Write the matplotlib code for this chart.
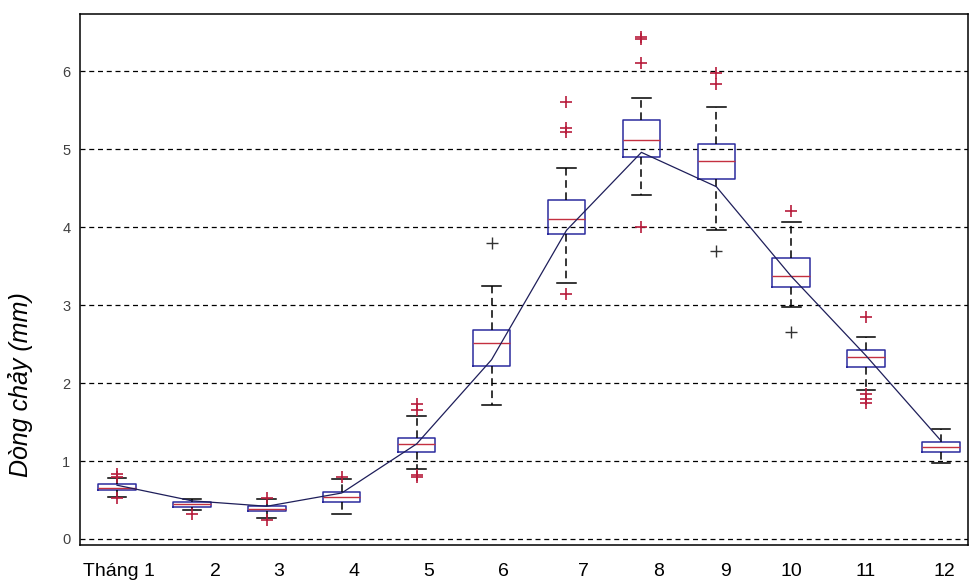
import matplotlib
matplotlib.use("Agg")
import matplotlib.pyplot as plt

plt.rcParams['font.family'] = ['Liberation Sans', 'DejaVu Sans']

months = [1, 2, 3, 4, 5, 6, 7, 8, 9, 10, 11, 12]
month_labels = ["Tháng 1", "2", "3", "4", "5", "6", "7", "8", "9", "10", "11", "12"]
label_pos = [1.03, 2.32, 3.16, 4.16, 5.16, 6.16, 7.22, 8.23, 9.12, 10.0, 11.0, 12.05]

q1 = [0.63, 0.415, 0.36, 0.48, 1.11, 2.22, 3.91, 4.90, 4.62, 3.23, 2.21, 1.12]
med = [0.66, 0.445, 0.39, 0.535, 1.22, 2.52, 4.10, 5.12, 4.85, 3.37, 2.33, 1.18]
q3 = [0.70, 0.475, 0.42, 0.60, 1.30, 2.68, 4.35, 5.38, 5.07, 3.60, 2.43, 1.24]
whis_lo = [0.54, 0.37, 0.265, 0.32, 0.90, 1.72, 3.28, 4.41, 3.97, 2.98, 1.91, 0.98]
whis_hi = [0.78, 0.51, 0.51, 0.77, 1.58, 3.25, 4.76, 5.66, 5.54, 4.07, 2.59, 1.41]

# red outliers
red_out = [
    [0.84, 0.80, 0.53],
    [0.32],
    [0.53, 0.25],
    [0.79],
    [1.73, 1.66, 0.82, 0.79],
    [],
    [5.61, 5.27, 5.22, 3.14],
    [6.44, 6.41, 6.10, 4.00],
    [5.98, 5.84],
    [4.21],
    [2.85, 1.86, 1.80, 1.75],
    [],
]
# black outliers
black_out_x = [6, 9, 10]
black_out_y = [3.80, 3.70, 2.65]

# mean line
mean_line = [0.69, 0.49, 0.42, 0.59, 1.22, 2.30, 3.96, 4.96, 4.52, 3.37, 2.35, 1.26]

fig = plt.figure(figsize=(9.69, 5.83), dpi=100)
ax = fig.add_axes([80/969, 38/583, 888/969, (545-14.3)/583])

stats = []
for i in range(len(months)):
    stats.append(dict(med=med[i], q1=q1[i], q3=q3[i], whislo=whis_lo[i],
                      whishi=whis_hi[i], fliers=red_out[i]))

box_blue = "#2b2b9e"
ax.bxp(stats, positions=months, widths=0.5, showfliers=True,
       boxprops=dict(color=box_blue, linewidth=1.1),
       medianprops=dict(color="#c43040", linewidth=1.0),
       whiskerprops=dict(color="black", linewidth=1.1, linestyle=(0, (5, 3))),
       capprops=dict(color="black", linewidth=1.1),
       capwidths=0.25,
       flierprops=dict(marker="+", markeredgecolor="#b81c3c", markersize=8,
                       markeredgewidth=1.2, linestyle="none"),
       zorder=3)
ax.plot(black_out_x, black_out_y, linestyle="none", marker="+", color="#333333",
        markersize=8, markeredgewidth=1.0, zorder=3)

ax.plot(months, mean_line, color="#1e1e5a", linewidth=0.9, zorder=4)

ax.set_xlim(0.506, 12.36)
ax.set_ylim(-0.077, 6.731)
ax.set_yticks([0, 1, 2, 3, 4, 5, 6])
ax.set_yticklabels(["0", "1", "2", "3", "4", "5", "6"], fontsize=10.5, color="#404040")
ax.set_xticks(label_pos)
ax.set_xticklabels(month_labels, fontsize=14, color="black")
ax.tick_params(axis="x", length=0, pad=13)
ax.tick_params(axis="y", length=0, pad=7)
for yv in [0, 1, 2, 3, 4, 5, 6]:
    ax.axhline(yv, color="black", linewidth=0.9, linestyle=(0, (4, 3)), zorder=1)

ax.set_ylabel("Dòng chảy (mm)", fontsize=18, fontstyle="italic")
ax.yaxis.set_label_coords(-0.0529, 0.303)
for s in ax.spines.values():
    s.set_color("black")
    s.set_linewidth(1.1)

fig.savefig("out.png", dpi=100)
